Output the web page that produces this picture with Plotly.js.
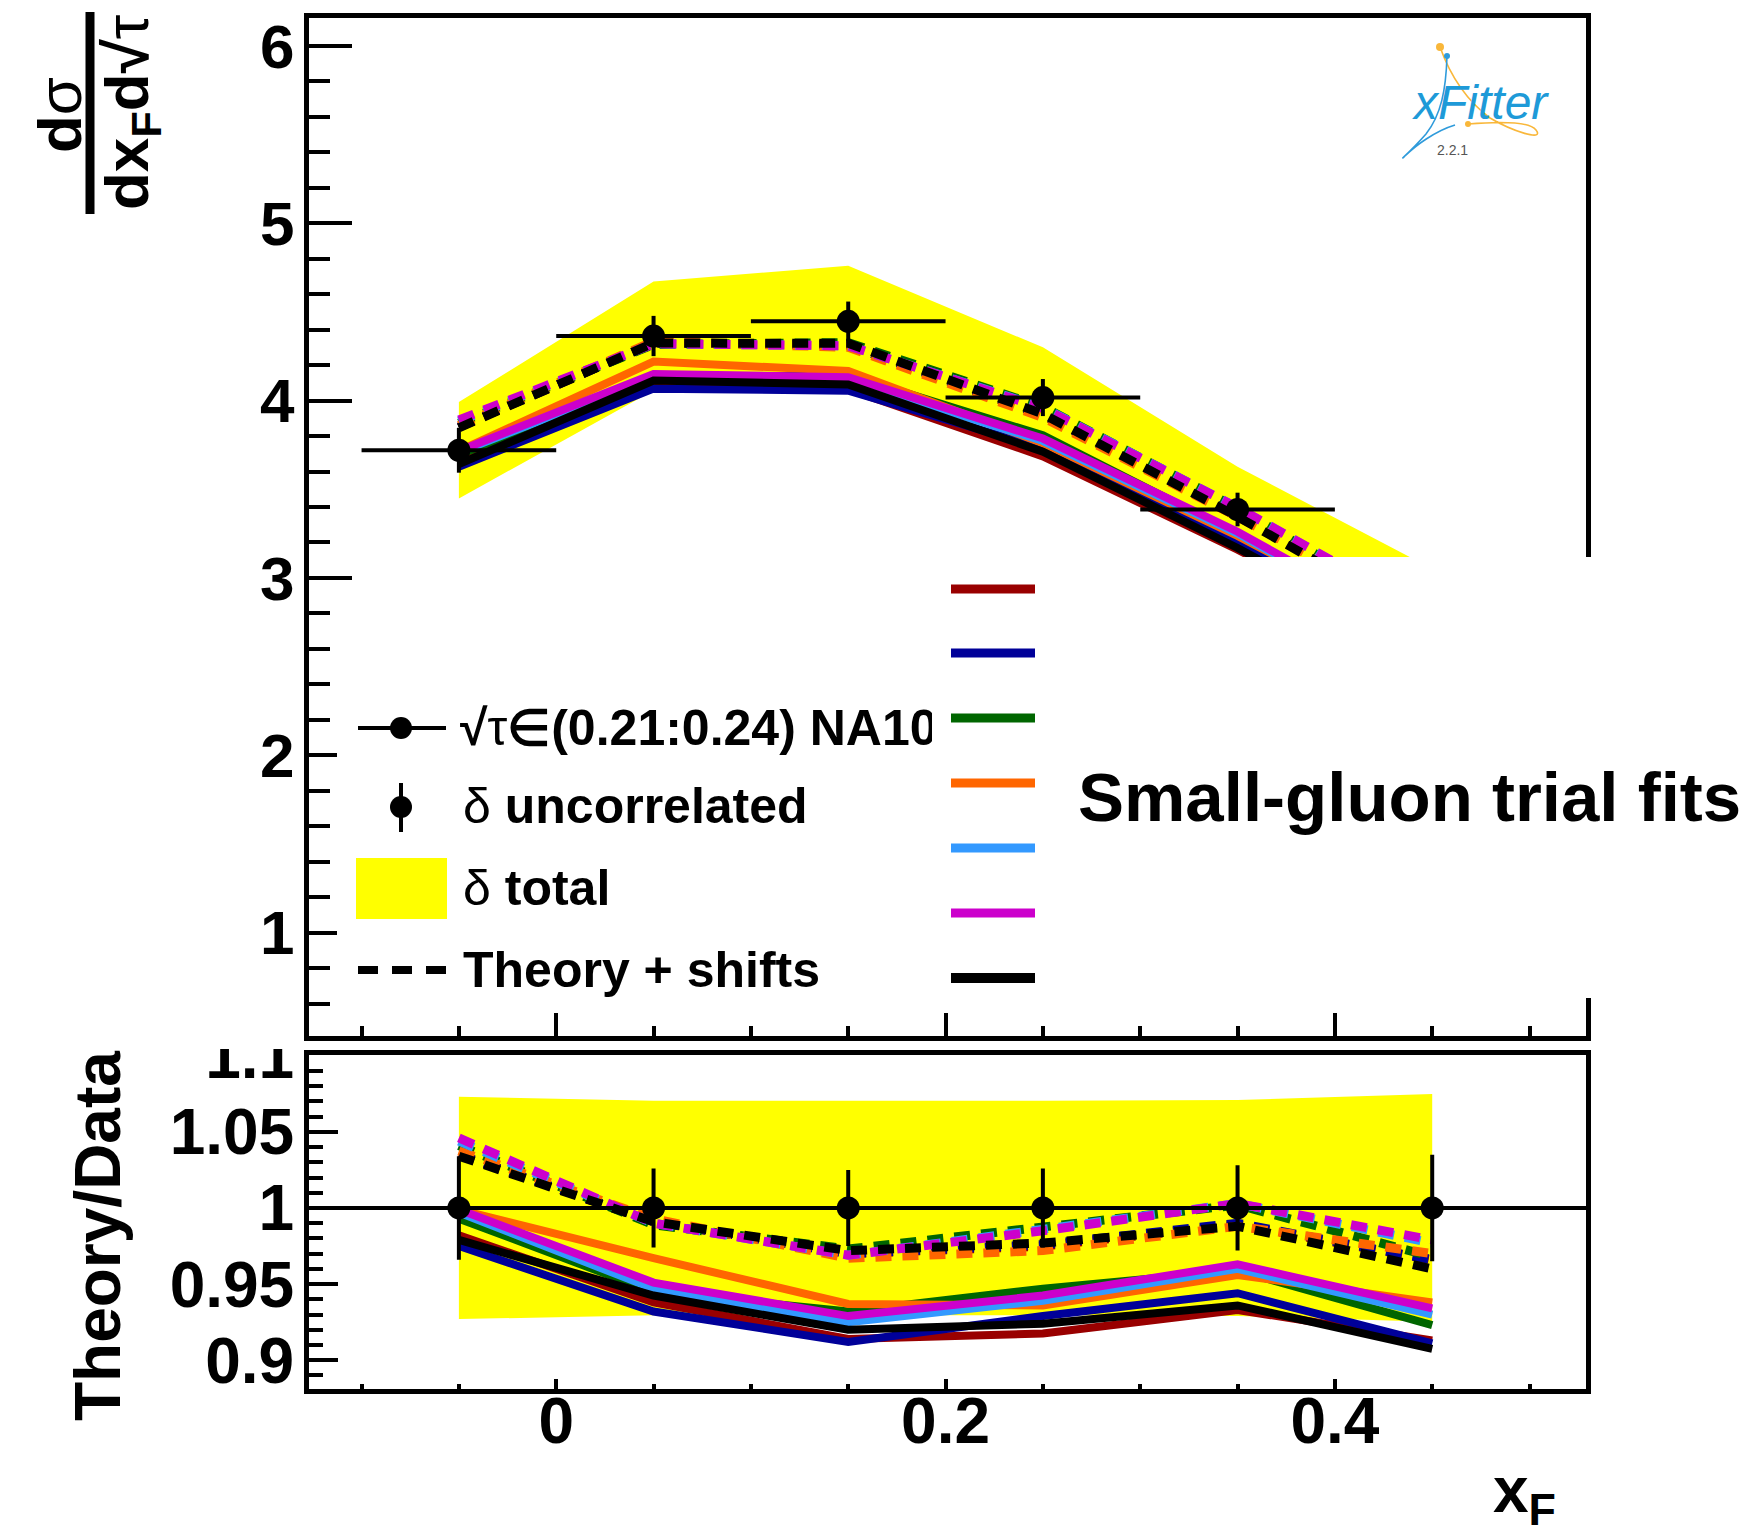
<!DOCTYPE html>
<html><head><meta charset="utf-8">
<script src="https://cdn.plot.ly/plotly-3.0.1.min.js"></script>
<style>html,body{margin:0;padding:0;background:#fff}</style>
</head><body><div id="chart" style="width:1756px;height:1533px"></div>
<script>
// ---------------- data ----------------
const xF = [-0.05, 0.05, 0.15, 0.25, 0.35, 0.45];
const xHalfWidth = [0.05, 0.05, 0.05, 0.05, 0.05, 0.05];
const crossSection = [3.72, 4.364, 4.447, 4.017, 3.386, 2.84];
const uncorrRel = [0.034, 0.026, 0.025, 0.026, 0.028, 0.035];
const totalRel = [0.073, 0.0705, 0.0705, 0.0705, 0.071, 0.0748];

const fitNames = ['trial fit 1', 'trial fit 2', 'trial fit 3', 'trial fit 4', 'trial fit 5', 'trial fit 6', 'trial fit 7'];
const fitColors = ['#990000', '#000099', '#006600', '#FF6600', '#3399FF', '#CC00CC', '#000000'];

// Theory / Data (solid lines)
const ratioFit1 = [0.982, 0.938, 0.914, 0.9175, 0.933, 0.913];
const ratioFit2 = [0.975, 0.932, 0.912, 0.929, 0.944, 0.911];
const ratioFit3 = [0.993, 0.945, 0.932, 0.947, 0.959, 0.923];
const ratioFit4 = [0.999, 0.967, 0.937, 0.936, 0.956, 0.938];
const ratioFit5 = [0.997, 0.947, 0.925, 0.939, 0.960, 0.930];
const ratioFit6 = [0.999, 0.951, 0.929, 0.9425, 0.963, 0.934];
const ratioFit7 = [0.979, 0.9425, 0.920, 0.924, 0.936, 0.9075];
// (Theory + shifts) / Data (dashed lines)
const shiftedFit1 = [1.035, 0.991, 0.970, 0.975, 0.989, 0.966];
const shiftedFit2 = [1.035, 0.991, 0.970, 0.976, 0.990, 0.966];
const shiftedFit3 = [1.041, 0.989, 0.973, 0.987, 1.002, 0.968];
const shiftedFit4 = [1.0375, 0.993, 0.967, 0.972, 0.988, 0.970];
const shiftedFit5 = [1.044, 0.990, 0.969, 0.986, 1.003, 0.977];
const shiftedFit6 = [1.046, 0.990, 0.969, 0.985, 1.003, 0.979];
const shiftedFit7 = [1.034, 0.991, 0.972, 0.977, 0.988, 0.960];

const ratioFits = [ratioFit1, ratioFit2, ratioFit3, ratioFit4, ratioFit5, ratioFit6, ratioFit7];
const shiftedFits = [shiftedFit1, shiftedFit2, shiftedFit3, shiftedFit4, shiftedFit5, shiftedFit6, shiftedFit7];

const yTopTicks = [1, 2, 3, 4, 5, 6];
const dataLabel = '√<span style="font-weight:normal">τ</span>∈(0.21:0.24) NA10';

// ---------------- geometry helpers ----------------
const W = 1756, H = 1533;
const X0 = 309, X1 = 1586;          // plot area left/right (px)
const TOP0 = 18.3, TOP1 = 1036;     // upper pad (px)
const LOW0 = 1055, LOW1 = 1389.3;   // lower pad (px)
const px = v => v / W;
const py = v => 1 - v / H;
const P = (x, y) => px(x).toFixed(5) + ',' + py(y).toFixed(5);
const FONT = 'Liberation Sans, Arial, Helvetica, sans-serif';

// ---------------- traces ----------------
const traces = [];
const bandX = xF.concat(xF.slice().reverse());
const upAbs = crossSection.map((v, i) => v * (1 + totalRel[i]));
const loAbs = crossSection.map((v, i) => v * (1 - totalRel[i]));
traces.push({x: bandX, y: upAbs.concat(loAbs.slice().reverse()), xaxis: 'x', yaxis: 'y',
  type: 'scatter', mode: 'lines', fill: 'toself', fillcolor: '#FFFF00', line: {width: 0}, hoverinfo: 'skip', name: 'δ total'});

const DASH = '16px,11px';
ratioFits.forEach((r, k) => traces.push({x: xF, y: r.map((q, i) => q * crossSection[i]), xaxis: 'x', yaxis: 'y',
  type: 'scatter', mode: 'lines', line: {color: fitColors[k], width: 8}, name: fitNames[k]}));
shiftedFits.forEach((r, k) => traces.push({x: xF, y: r.map((q, i) => q * crossSection[i]), xaxis: 'x', yaxis: 'y',
  type: 'scatter', mode: 'lines', line: {color: fitColors[k], width: 9, dash: DASH}, name: fitNames[k] + ' + shifts'}));
traces.push({x: xF, y: crossSection, xaxis: 'x', yaxis: 'y', type: 'scatter', mode: 'markers',
  marker: {color: 'black', size: 23},
  error_x: {type: 'data', array: xHalfWidth, color: 'black', thickness: 4, width: 0},
  error_y: {type: 'data', array: crossSection.map((v, i) => v * uncorrRel[i]), color: 'black', thickness: 4, width: 0},
  name: 'NA10'});

// ratio panel
traces.push({x: bandX, y: totalRel.map(t => 1 + t).concat(totalRel.map(t => 1 - t).reverse()), xaxis: 'x2', yaxis: 'y2',
  type: 'scatter', mode: 'lines', fill: 'toself', fillcolor: '#FFFF00', line: {width: 0}, hoverinfo: 'skip', name: 'δ total ratio'});
ratioFits.forEach((r, k) => traces.push({x: xF, y: r, xaxis: 'x2', yaxis: 'y2',
  type: 'scatter', mode: 'lines', line: {color: fitColors[k], width: 8}, name: fitNames[k] + ' ratio'}));
shiftedFits.forEach((r, k) => traces.push({x: xF, y: r, xaxis: 'x2', yaxis: 'y2',
  type: 'scatter', mode: 'lines', line: {color: fitColors[k], width: 9, dash: DASH}, name: fitNames[k] + ' + shifts ratio'}));
traces.push({x: xF, y: crossSection.map(v => v / v), xaxis: 'x2', yaxis: 'y2', type: 'scatter', mode: 'markers',
  marker: {color: 'black', size: 23},
  error_y: {type: 'data', array: uncorrRel, color: 'black', thickness: 4, width: 0}, name: 'data ratio'});

// ---------------- axes ----------------
const xRange = [-0.127, 0.529];
const common = {showline: true, linecolor: 'black', linewidth: 5, mirror: true, showgrid: false, zeroline: false,
  ticks: 'inside', tickcolor: 'black', tickwidth: 4};
const layout = {
  width: W, height: H, margin: {l: 0, r: 0, t: 0, b: 0},
  paper_bgcolor: 'white', plot_bgcolor: 'white', showlegend: false,
  xaxis: Object.assign({}, common, {domain: [px(X0), px(X1)], anchor: 'y', range: xRange, tick0: 0, dtick: 0.2,
    ticklen: 23, showticklabels: false,
    minor: {ticks: 'inside', dtick: 0.05, ticklen: 10, tickwidth: 4, tickcolor: 'black'}}),
  yaxis: Object.assign({}, common, {domain: [py(TOP1), py(TOP0)], anchor: 'x', range: [0.418, 6.155],
    tickvals: yTopTicks, ticklen: 43, ticklabelstandoff: -3,
    tickfont: {family: FONT, size: 62, weight: 'bold', color: 'black'},
    minor: {ticks: 'inside', dtick: 0.2, ticklen: 21, tickwidth: 4, tickcolor: 'black'}}),
  xaxis2: Object.assign({}, common, {domain: [px(X0), px(X1)], anchor: 'y2', range: xRange, tick0: 0, dtick: 0.2,
    ticklen: 10, ticklabelstandoff: -28,
    tickfont: {family: FONT, size: 64, weight: 'bold', color: 'black'},
    minor: {ticks: 'inside', dtick: 0.05, ticklen: 5, tickwidth: 4, tickcolor: 'black'}}),
  yaxis2: Object.assign({}, common, {domain: [py(LOW1), py(LOW0)], anchor: 'x2', range: [0.8809, 1.1005],
    tick0: 0, dtick: 0.05, ticklen: 29, ticklabelstandoff: -3,
    tickfont: {family: FONT, size: 64, weight: 'bold', color: 'black'},
    minor: {ticks: 'inside', dtick: 0.01, ticklen: 14, tickwidth: 4, tickcolor: 'black'}}),
  shapes: [], annotations: []
};

const S = layout.shapes;
const shp = (o) => Object.assign({xref: 'paper', yref: 'paper', layer: 'above'}, o);
// unity line on ratio panel
S.push({type: 'line', xref: 'x2 domain', yref: 'y2', x0: 0, x1: 1, y0: 1, y1: 1,
  line: {color: 'black', width: 4}, layer: 'above'});
// the lower pad clips the top of its "1.1" label
S.push(shp({type: 'rect', x0: px(140), x1: px(300), y0: py(1000), y1: py(1049), fillcolor: 'white', line: {width: 0}}));

// left legend: white box + symbols
S.push(shp({type: 'rect', x0: px(337), x1: px(933), y0: py(690), y1: py(1012), fillcolor: 'white', line: {width: 0}}));
S.push(shp({type: 'line', x0: px(358), x1: px(446), y0: py(728), y1: py(728), line: {color: 'black', width: 4}}));
S.push(shp({type: 'circle', x0: px(390), x1: px(412), y0: py(717), y1: py(739), fillcolor: 'black', line: {width: 0}}));
S.push(shp({type: 'line', x0: px(401), x1: px(401), y0: py(783), y1: py(832), line: {color: 'black', width: 4}}));
S.push(shp({type: 'circle', x0: px(390), x1: px(412), y0: py(796), y1: py(818), fillcolor: 'black', line: {width: 0}}));
S.push(shp({type: 'rect', x0: px(356), x1: px(447), y0: py(858), y1: py(919), fillcolor: '#FFFF00', line: {width: 0}}));
S.push(shp({type: 'line', x0: px(358), x1: px(446), y0: py(970), y1: py(970), line: {color: 'black', width: 8, dash: '20px,14px'}}));

// right legend: white box + colour keys
S.push(shp({type: 'rect', x0: px(933), x1: px(1650), y0: py(557), y1: py(998), fillcolor: 'white', line: {width: 0}}));
const keyY = [589, 653, 718, 783, 848, 913, 978];
fitColors.forEach((c, k) => S.push(shp({type: 'line', x0: px(951), x1: px(1035), y0: py(keyY[k]), y1: py(keyY[k]),
  line: {color: c, width: k === 6 ? 10 : 9}})));

// fraction bar of the y title
S.push(shp({type: 'line', x0: px(90), x1: px(90), y0: py(12), y1: py(214), line: {color: 'black', width: 9}}));

// xFitter logo curves
S.push(shp({type: 'path', path: `M${P(1440,47)} C${P(1450,75)} ${P(1466,100)} ${P(1490,118)} C${P(1512,131)} ${P(1545,142)} ${P(1536,130)} C${P(1528,120)} ${P(1492,122)} ${P(1468,124)}`,
  line: {color: '#F9B73A', width: 1.6}}));
S.push(shp({type: 'path', path: `M${P(1447,56)} C${P(1446,90)} ${P(1441,115)} ${P(1426,134)} C${P(1412,150)} ${P(1397,163)} ${P(1405,156)} C${P(1415,146)} ${P(1435,131)} ${P(1455,125)}`,
  line: {color: '#2F9BDB', width: 1.6}}));
S.push(shp({type: 'circle', x0: px(1436), x1: px(1444), y0: py(43), y1: py(51), fillcolor: '#F9B73A', line: {width: 0}}));
S.push(shp({type: 'circle', x0: px(1444), x1: px(1450), y0: py(53), y1: py(59), fillcolor: '#2F9BDB', line: {width: 0}}));
S.push(shp({type: 'circle', x0: px(1465), x1: px(1471), y0: py(121), y1: py(127), fillcolor: '#F9B73A', line: {width: 0}}));

// ---------------- annotations ----------------
const ann = (text, x, y, o) => Object.assign({xref: 'paper', yref: 'paper', x: px(x), y: py(y), text: text, showarrow: false,
  font: {family: FONT, size: 50, color: 'black', weight: 'bold'}}, o || {});
const A = layout.annotations;
// left legend text (first entry is hidden under the right legend box beyond x = 933 px)
A.push(ann(dataLabel, 459, 728, {xanchor: 'left', yanchor: 'middle', align: 'left', width: 472, borderpad: 0}));
A.push(ann('<span style="font-weight:normal">δ</span> uncorrelated', 461, 806, {xanchor: 'left', yanchor: 'middle'}));
A.push(ann('<span style="font-weight:normal">δ</span> total', 461, 888, {xanchor: 'left', yanchor: 'middle'}));
A.push(ann('Theory + shifts', 461, 970, {xanchor: 'left', yanchor: 'middle'}));
A.push(ann('Small-gluon trial fits', 1076, 797, {xanchor: 'left', yanchor: 'middle', font: {family: FONT, size: 69, weight: 'bold', color: 'black'}}));
// axis titles
A.push(ann('d<span style="font-weight:normal">σ</span>', 60, 115, {textangle: -90, xanchor: 'center', yanchor: 'middle', font: {family: FONT, size: 62, weight: 'bold', color: 'black'}}));
A.push(ann('dx<sub>F</sub>d√<span style="font-weight:normal">τ</span>', 131, 113, {textangle: -90, xanchor: 'center', yanchor: 'middle', font: {family: FONT, size: 62, weight: 'bold', color: 'black'}}));
A.push(ann('Theory/Data', 98, 1236, {textangle: -90, xanchor: 'center', yanchor: 'middle', font: {family: FONT, size: 64, weight: 'bold', color: 'black'}}));
A.push(ann('x<sub>F</sub>', 1558, 1494, {xanchor: 'right', yanchor: 'middle', font: {family: FONT, size: 64, weight: 'bold', color: 'black'}}));
// logo text
A.push(ann('<i>xFitter</i>', 1410, 103, {xanchor: 'left', yanchor: 'middle', font: {family: FONT, size: 48, weight: 'normal', color: '#1E9AD8'}}));
A.push(ann('2.2.1', 1452, 150, {xanchor: 'center', yanchor: 'middle', font: {family: FONT, size: 14, weight: 'normal', color: '#555555'}}));

Plotly.newPlot('chart', traces, layout, {staticPlot: true});
</script></body></html>
